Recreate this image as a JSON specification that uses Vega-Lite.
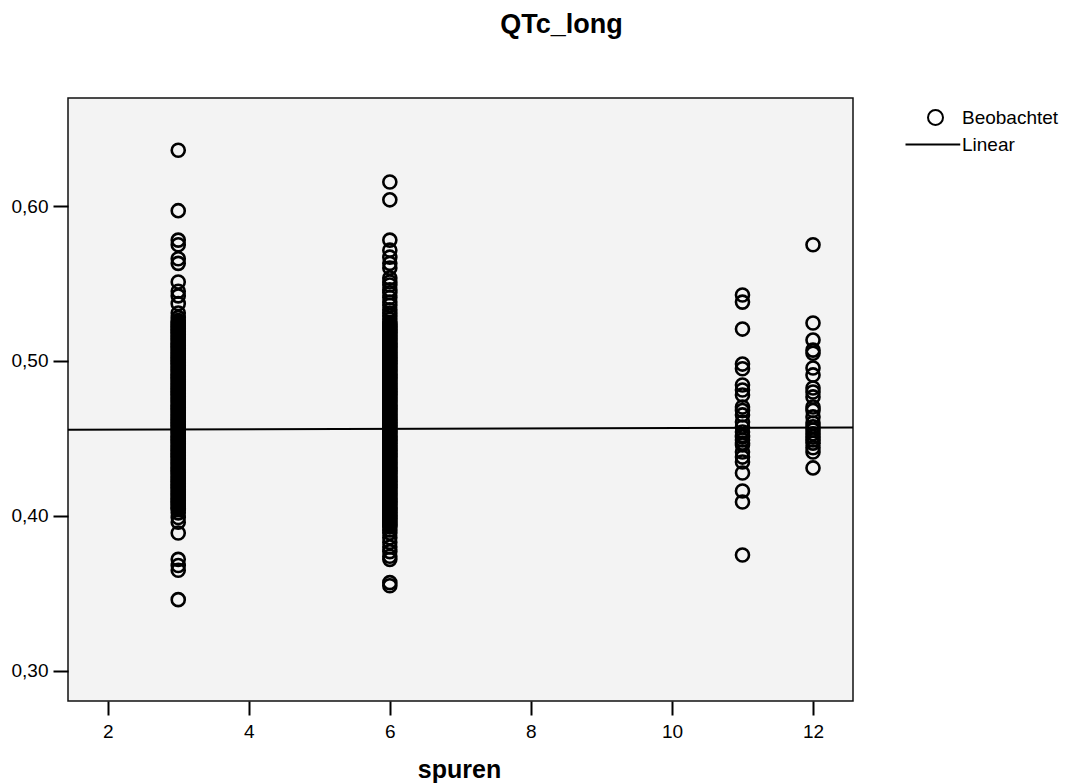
{
  "$schema": "https://vega.github.io/schema/vega-lite/v6.json",
  "autosize": {"type": "none"},
  "padding": {"left": 68, "top": 98, "right": 216, "bottom": 82},
  "width": 785,
  "height": 603,
  "background": "white",
  "title": {
    "text": "QTc_long",
    "font": "Liberation Sans",
    "fontSize": 27,
    "fontWeight": "bold",
    "color": "black",
    "anchor": "middle",
    "frame": "group",
    "dx": 101,
    "baseline": "alphabetic",
    "offset": 38
  },
  "config": {
    "view": {"fill": "#f3f3f3", "stroke": "#111111", "strokeWidth": 1.5},
    "axis": {
      "grid": false,
      "domain": false,
      "tickColor": "black",
      "tickWidth": 2,
      "labelFont": "Liberation Sans",
      "labelFontSize": 19,
      "labelColor": "black",
      "titleFont": "Liberation Sans",
      "titleColor": "black"
    }
  },
  "layer": [
    {
      "data": {
        "values": [
          {"spuren":3,"QTc_long":0.636},{"spuren":3,"QTc_long":0.597},{"spuren":3,"QTc_long":0.578},{"spuren":3,"QTc_long":0.575},{"spuren":3,"QTc_long":0.566},{"spuren":3,"QTc_long":0.563},{"spuren":3,"QTc_long":0.551},{"spuren":3,"QTc_long":0.545},{"spuren":3,"QTc_long":0.542},{"spuren":3,"QTc_long":0.537},{"spuren":3,"QTc_long":0.531},{"spuren":3,"QTc_long":0.528},
          {"spuren":3,"QTc_long":0.526},{"spuren":3,"QTc_long":0.525},{"spuren":3,"QTc_long":0.524},{"spuren":3,"QTc_long":0.523},{"spuren":3,"QTc_long":0.522},{"spuren":3,"QTc_long":0.521},{"spuren":3,"QTc_long":0.520},
          {"spuren":3,"QTc_long":0.519},{"spuren":3,"QTc_long":0.518},{"spuren":3,"QTc_long":0.517},{"spuren":3,"QTc_long":0.516},{"spuren":3,"QTc_long":0.515},{"spuren":3,"QTc_long":0.514},{"spuren":3,"QTc_long":0.513},{"spuren":3,"QTc_long":0.512},{"spuren":3,"QTc_long":0.511},{"spuren":3,"QTc_long":0.510},
          {"spuren":3,"QTc_long":0.509},{"spuren":3,"QTc_long":0.508},{"spuren":3,"QTc_long":0.507},{"spuren":3,"QTc_long":0.506},{"spuren":3,"QTc_long":0.505},{"spuren":3,"QTc_long":0.504},{"spuren":3,"QTc_long":0.503},{"spuren":3,"QTc_long":0.502},{"spuren":3,"QTc_long":0.501},{"spuren":3,"QTc_long":0.500},
          {"spuren":3,"QTc_long":0.499},{"spuren":3,"QTc_long":0.498},{"spuren":3,"QTc_long":0.497},{"spuren":3,"QTc_long":0.496},{"spuren":3,"QTc_long":0.495},{"spuren":3,"QTc_long":0.494},{"spuren":3,"QTc_long":0.493},{"spuren":3,"QTc_long":0.492},{"spuren":3,"QTc_long":0.491},{"spuren":3,"QTc_long":0.490},
          {"spuren":3,"QTc_long":0.489},{"spuren":3,"QTc_long":0.488},{"spuren":3,"QTc_long":0.487},{"spuren":3,"QTc_long":0.486},{"spuren":3,"QTc_long":0.485},{"spuren":3,"QTc_long":0.484},{"spuren":3,"QTc_long":0.483},{"spuren":3,"QTc_long":0.482},{"spuren":3,"QTc_long":0.481},{"spuren":3,"QTc_long":0.480},
          {"spuren":3,"QTc_long":0.479},{"spuren":3,"QTc_long":0.478},{"spuren":3,"QTc_long":0.477},{"spuren":3,"QTc_long":0.476},{"spuren":3,"QTc_long":0.475},{"spuren":3,"QTc_long":0.474},{"spuren":3,"QTc_long":0.473},{"spuren":3,"QTc_long":0.472},{"spuren":3,"QTc_long":0.471},{"spuren":3,"QTc_long":0.470},
          {"spuren":3,"QTc_long":0.469},{"spuren":3,"QTc_long":0.468},{"spuren":3,"QTc_long":0.467},{"spuren":3,"QTc_long":0.466},{"spuren":3,"QTc_long":0.465},{"spuren":3,"QTc_long":0.464},{"spuren":3,"QTc_long":0.463},{"spuren":3,"QTc_long":0.462},{"spuren":3,"QTc_long":0.461},{"spuren":3,"QTc_long":0.460},
          {"spuren":3,"QTc_long":0.459},{"spuren":3,"QTc_long":0.458},{"spuren":3,"QTc_long":0.457},{"spuren":3,"QTc_long":0.456},{"spuren":3,"QTc_long":0.455},{"spuren":3,"QTc_long":0.454},{"spuren":3,"QTc_long":0.453},{"spuren":3,"QTc_long":0.452},{"spuren":3,"QTc_long":0.451},{"spuren":3,"QTc_long":0.450},
          {"spuren":3,"QTc_long":0.449},{"spuren":3,"QTc_long":0.448},{"spuren":3,"QTc_long":0.447},{"spuren":3,"QTc_long":0.446},{"spuren":3,"QTc_long":0.445},{"spuren":3,"QTc_long":0.444},{"spuren":3,"QTc_long":0.443},{"spuren":3,"QTc_long":0.442},{"spuren":3,"QTc_long":0.441},{"spuren":3,"QTc_long":0.440},
          {"spuren":3,"QTc_long":0.439},{"spuren":3,"QTc_long":0.438},{"spuren":3,"QTc_long":0.437},{"spuren":3,"QTc_long":0.436},{"spuren":3,"QTc_long":0.435},{"spuren":3,"QTc_long":0.434},{"spuren":3,"QTc_long":0.433},{"spuren":3,"QTc_long":0.432},{"spuren":3,"QTc_long":0.431},{"spuren":3,"QTc_long":0.430},
          {"spuren":3,"QTc_long":0.429},{"spuren":3,"QTc_long":0.428},{"spuren":3,"QTc_long":0.427},{"spuren":3,"QTc_long":0.426},{"spuren":3,"QTc_long":0.425},{"spuren":3,"QTc_long":0.424},{"spuren":3,"QTc_long":0.423},{"spuren":3,"QTc_long":0.422},{"spuren":3,"QTc_long":0.421},{"spuren":3,"QTc_long":0.420},
          {"spuren":3,"QTc_long":0.419},{"spuren":3,"QTc_long":0.418},{"spuren":3,"QTc_long":0.417},{"spuren":3,"QTc_long":0.416},{"spuren":3,"QTc_long":0.415},{"spuren":3,"QTc_long":0.414},{"spuren":3,"QTc_long":0.413},{"spuren":3,"QTc_long":0.412},{"spuren":3,"QTc_long":0.411},{"spuren":3,"QTc_long":0.410},
          {"spuren":3,"QTc_long":0.409},{"spuren":3,"QTc_long":0.408},{"spuren":3,"QTc_long":0.407},{"spuren":3,"QTc_long":0.406},{"spuren":3,"QTc_long":0.405},{"spuren":3,"QTc_long":0.404},
          {"spuren":3,"QTc_long":0.402},{"spuren":3,"QTc_long":0.399},{"spuren":3,"QTc_long":0.396},{"spuren":3,"QTc_long":0.389},{"spuren":3,"QTc_long":0.372},{"spuren":3,"QTc_long":0.368},{"spuren":3,"QTc_long":0.365},{"spuren":3,"QTc_long":0.346},

          {"spuren":6,"QTc_long":0.6155},{"spuren":6,"QTc_long":0.604},{"spuren":6,"QTc_long":0.578},{"spuren":6,"QTc_long":0.5715},{"spuren":6,"QTc_long":0.567},{"spuren":6,"QTc_long":0.563},{"spuren":6,"QTc_long":0.560},{"spuren":6,"QTc_long":0.5535},{"spuren":6,"QTc_long":0.551},{"spuren":6,"QTc_long":0.549},{"spuren":6,"QTc_long":0.546},{"spuren":6,"QTc_long":0.544},{"spuren":6,"QTc_long":0.541},{"spuren":6,"QTc_long":0.538},{"spuren":6,"QTc_long":0.536},{"spuren":6,"QTc_long":0.533},{"spuren":6,"QTc_long":0.531},{"spuren":6,"QTc_long":0.529},{"spuren":6,"QTc_long":0.527},{"spuren":6,"QTc_long":0.525},{"spuren":6,"QTc_long":0.524},{"spuren":6,"QTc_long":0.523},
          {"spuren":6,"QTc_long":0.522},{"spuren":6,"QTc_long":0.521},{"spuren":6,"QTc_long":0.520},
          {"spuren":6,"QTc_long":0.519},{"spuren":6,"QTc_long":0.518},{"spuren":6,"QTc_long":0.517},{"spuren":6,"QTc_long":0.516},{"spuren":6,"QTc_long":0.515},{"spuren":6,"QTc_long":0.514},{"spuren":6,"QTc_long":0.513},{"spuren":6,"QTc_long":0.512},{"spuren":6,"QTc_long":0.511},{"spuren":6,"QTc_long":0.510},
          {"spuren":6,"QTc_long":0.509},{"spuren":6,"QTc_long":0.508},{"spuren":6,"QTc_long":0.507},{"spuren":6,"QTc_long":0.506},{"spuren":6,"QTc_long":0.505},{"spuren":6,"QTc_long":0.504},{"spuren":6,"QTc_long":0.503},{"spuren":6,"QTc_long":0.502},{"spuren":6,"QTc_long":0.501},{"spuren":6,"QTc_long":0.500},
          {"spuren":6,"QTc_long":0.499},{"spuren":6,"QTc_long":0.498},{"spuren":6,"QTc_long":0.497},{"spuren":6,"QTc_long":0.496},{"spuren":6,"QTc_long":0.495},{"spuren":6,"QTc_long":0.494},{"spuren":6,"QTc_long":0.493},{"spuren":6,"QTc_long":0.492},{"spuren":6,"QTc_long":0.491},{"spuren":6,"QTc_long":0.490},
          {"spuren":6,"QTc_long":0.489},{"spuren":6,"QTc_long":0.488},{"spuren":6,"QTc_long":0.487},{"spuren":6,"QTc_long":0.486},{"spuren":6,"QTc_long":0.485},{"spuren":6,"QTc_long":0.484},{"spuren":6,"QTc_long":0.483},{"spuren":6,"QTc_long":0.482},{"spuren":6,"QTc_long":0.481},{"spuren":6,"QTc_long":0.480},
          {"spuren":6,"QTc_long":0.479},{"spuren":6,"QTc_long":0.478},{"spuren":6,"QTc_long":0.477},{"spuren":6,"QTc_long":0.476},{"spuren":6,"QTc_long":0.475},{"spuren":6,"QTc_long":0.474},{"spuren":6,"QTc_long":0.473},{"spuren":6,"QTc_long":0.472},{"spuren":6,"QTc_long":0.471},{"spuren":6,"QTc_long":0.470},
          {"spuren":6,"QTc_long":0.469},{"spuren":6,"QTc_long":0.468},{"spuren":6,"QTc_long":0.467},{"spuren":6,"QTc_long":0.466},{"spuren":6,"QTc_long":0.465},{"spuren":6,"QTc_long":0.464},{"spuren":6,"QTc_long":0.463},{"spuren":6,"QTc_long":0.462},{"spuren":6,"QTc_long":0.461},{"spuren":6,"QTc_long":0.460},
          {"spuren":6,"QTc_long":0.459},{"spuren":6,"QTc_long":0.458},{"spuren":6,"QTc_long":0.457},{"spuren":6,"QTc_long":0.456},{"spuren":6,"QTc_long":0.455},{"spuren":6,"QTc_long":0.454},{"spuren":6,"QTc_long":0.453},{"spuren":6,"QTc_long":0.452},{"spuren":6,"QTc_long":0.451},{"spuren":6,"QTc_long":0.450},
          {"spuren":6,"QTc_long":0.449},{"spuren":6,"QTc_long":0.448},{"spuren":6,"QTc_long":0.447},{"spuren":6,"QTc_long":0.446},{"spuren":6,"QTc_long":0.445},{"spuren":6,"QTc_long":0.444},{"spuren":6,"QTc_long":0.443},{"spuren":6,"QTc_long":0.442},{"spuren":6,"QTc_long":0.441},{"spuren":6,"QTc_long":0.440},
          {"spuren":6,"QTc_long":0.439},{"spuren":6,"QTc_long":0.438},{"spuren":6,"QTc_long":0.437},{"spuren":6,"QTc_long":0.436},{"spuren":6,"QTc_long":0.435},{"spuren":6,"QTc_long":0.434},{"spuren":6,"QTc_long":0.433},{"spuren":6,"QTc_long":0.432},{"spuren":6,"QTc_long":0.431},{"spuren":6,"QTc_long":0.430},
          {"spuren":6,"QTc_long":0.429},{"spuren":6,"QTc_long":0.428},{"spuren":6,"QTc_long":0.427},{"spuren":6,"QTc_long":0.426},{"spuren":6,"QTc_long":0.425},{"spuren":6,"QTc_long":0.424},{"spuren":6,"QTc_long":0.423},{"spuren":6,"QTc_long":0.422},{"spuren":6,"QTc_long":0.421},{"spuren":6,"QTc_long":0.420},
          {"spuren":6,"QTc_long":0.419},{"spuren":6,"QTc_long":0.418},{"spuren":6,"QTc_long":0.417},{"spuren":6,"QTc_long":0.416},{"spuren":6,"QTc_long":0.415},{"spuren":6,"QTc_long":0.414},{"spuren":6,"QTc_long":0.413},{"spuren":6,"QTc_long":0.412},{"spuren":6,"QTc_long":0.411},{"spuren":6,"QTc_long":0.410},
          {"spuren":6,"QTc_long":0.409},{"spuren":6,"QTc_long":0.408},{"spuren":6,"QTc_long":0.407},{"spuren":6,"QTc_long":0.406},{"spuren":6,"QTc_long":0.405},{"spuren":6,"QTc_long":0.404},{"spuren":6,"QTc_long":0.403},{"spuren":6,"QTc_long":0.402},{"spuren":6,"QTc_long":0.401},{"spuren":6,"QTc_long":0.400},
          {"spuren":6,"QTc_long":0.399},{"spuren":6,"QTc_long":0.398},{"spuren":6,"QTc_long":0.397},{"spuren":6,"QTc_long":0.396},{"spuren":6,"QTc_long":0.395},{"spuren":6,"QTc_long":0.394},{"spuren":6,"QTc_long":0.393},
          {"spuren":6,"QTc_long":0.391},{"spuren":6,"QTc_long":0.389},{"spuren":6,"QTc_long":0.386},{"spuren":6,"QTc_long":0.383},{"spuren":6,"QTc_long":0.380},{"spuren":6,"QTc_long":0.377},{"spuren":6,"QTc_long":0.374},{"spuren":6,"QTc_long":0.372},{"spuren":6,"QTc_long":0.357},{"spuren":6,"QTc_long":0.355},

          {"spuren":11,"QTc_long":0.5426},{"spuren":11,"QTc_long":0.538},{"spuren":11,"QTc_long":0.5206},{"spuren":11,"QTc_long":0.498},{"spuren":11,"QTc_long":0.495},{"spuren":11,"QTc_long":0.4845},{"spuren":11,"QTc_long":0.4813},{"spuren":11,"QTc_long":0.478},{"spuren":11,"QTc_long":0.4703},{"spuren":11,"QTc_long":0.468},{"spuren":11,"QTc_long":0.4652},{"spuren":11,"QTc_long":0.4606},{"spuren":11,"QTc_long":0.4574},{"spuren":11,"QTc_long":0.4542},{"spuren":11,"QTc_long":0.452},{"spuren":11,"QTc_long":0.451},{"spuren":11,"QTc_long":0.449},{"spuren":11,"QTc_long":0.447},{"spuren":11,"QTc_long":0.4458},{"spuren":11,"QTc_long":0.4413},{"spuren":11,"QTc_long":0.438},{"spuren":11,"QTc_long":0.4348},{"spuren":11,"QTc_long":0.4277},{"spuren":11,"QTc_long":0.4161},{"spuren":11,"QTc_long":0.409},{"spuren":11,"QTc_long":0.3748},

          {"spuren":12,"QTc_long":0.575},{"spuren":12,"QTc_long":0.5245},{"spuren":12,"QTc_long":0.5135},{"spuren":12,"QTc_long":0.507},{"spuren":12,"QTc_long":0.505},{"spuren":12,"QTc_long":0.4955},{"spuren":12,"QTc_long":0.491},{"spuren":12,"QTc_long":0.4826},{"spuren":12,"QTc_long":0.480},{"spuren":12,"QTc_long":0.4768},{"spuren":12,"QTc_long":0.4703},{"spuren":12,"QTc_long":0.468},{"spuren":12,"QTc_long":0.4639},{"spuren":12,"QTc_long":0.460},{"spuren":12,"QTc_long":0.4575},{"spuren":12,"QTc_long":0.4555},{"spuren":12,"QTc_long":0.453},{"spuren":12,"QTc_long":0.451},{"spuren":12,"QTc_long":0.449},{"spuren":12,"QTc_long":0.447},{"spuren":12,"QTc_long":0.444},{"spuren":12,"QTc_long":0.4413},{"spuren":12,"QTc_long":0.431}
        ]
      },
      "mark": {"type": "point", "filled": false, "size": 170, "strokeWidth": 2.6, "color": "black", "opacity": 1},
      "encoding": {
        "x": {
          "field": "spuren", "type": "quantitative",
          "scale": {"domain": [1.437, 12.567], "nice": false, "zero": false},
          "axis": {
            "values": [2, 4, 6, 8, 10, 12],
            "format": "d",
            "tickSize": 14,
            "labelPadding": 7,
            "title": "spuren",
            "titleFontSize": 25,
            "titleFontWeight": "bold",
            "titleX": 391,
            "titleY": 76,
            "titleAlign": "center",
            "titleBaseline": "alphabetic"
          }
        },
        "y": {
          "field": "QTc_long", "type": "quantitative",
          "scale": {"domain": [0.2806, 0.6697], "nice": false, "zero": false},
          "axis": {
            "values": [0.3, 0.4, 0.5, 0.6],
            "tickSize": 15,
            "labelPadding": 5,
            "title": null,
            "labelExpr": "replace(format(datum.value, '.2f'), '.', ',')"
          }
        },
        "shape": {
          "datum": "Beobachtet",
          "type": "nominal",
          "scale": {"domain": ["Beobachtet", "Linear"], "range": ["circle", "M-4,0H3.3"]},
          "legend": {
            "title": null,
            "orient": "none",
            "legendX": 858,
            "legendY": 10,
            "padding": 0,
            "symbolSize": 225,
            "symbolStrokeWidth": 2,
            "symbolStrokeColor": "black",
            "symbolOpacity": 1,
            "labelFont": "Liberation Sans",
            "labelFontSize": 19,
            "labelColor": "black",
            "labelOffset": 17,
            "rowPadding": 6
          }
        }
      }
    },
    {
      "data": {
        "values": [
          {"spuren": 1.437, "fit": 0.4556},
          {"spuren": 12.567, "fit": 0.4571}
        ]
      },
      "mark": {"type": "line", "color": "black", "strokeWidth": 2},
      "encoding": {
        "x": {"field": "spuren", "type": "quantitative"},
        "y": {"field": "fit", "type": "quantitative"}
      }
    }
  ]
}
